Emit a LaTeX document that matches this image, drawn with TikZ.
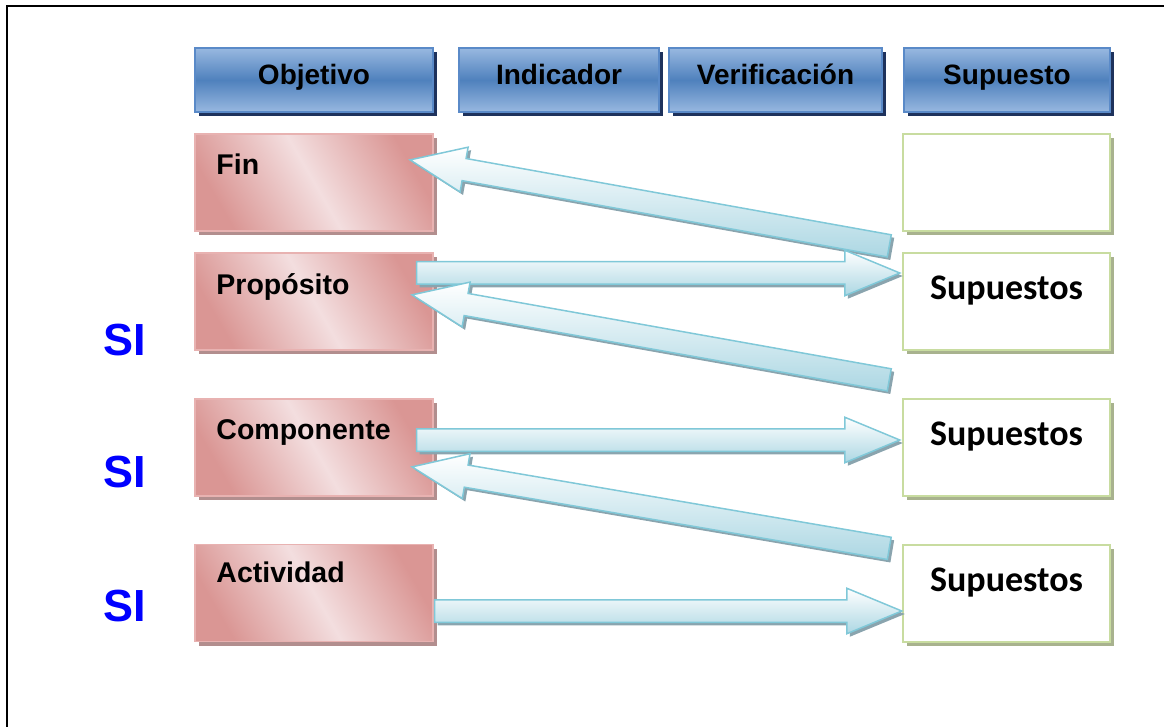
\documentclass[tikz,border=0pt]{standalone}
\usepackage{fontspec}
\setmainfont{Liberation Sans}
\newfontfamily\calibri{Carlito}
\usetikzlibrary{calc,shapes.arrows,shadows}

\definecolor{hdrtop}{RGB}{152,184,224}
\definecolor{hdrmid}{RGB}{79,129,189}
\definecolor{hdredge}{RGB}{90,138,200}
\definecolor{hdrshade}{RGB}{30,50,92}
\definecolor{objdark}{RGB}{218,150,148}
\definecolor{objlight}{RGB}{243,222,223}
\definecolor{objedge}{RGB}{232,178,177}
\definecolor{objshade}{RGB}{178,142,142}
\definecolor{supedge}{RGB}{200,220,160}
\definecolor{supshade}{RGB}{168,178,142}
\definecolor{arrfill}{RGB}{172,215,227}
\definecolor{arredge}{RGB}{128,200,216}
\definecolor{arrshade}{RGB}{138,164,174}

\tikzset{
  hdr/.style={draw=hdredge, line width=1.5pt, top color=hdrtop, bottom color=hdrtop, middle color=hdrmid,
    minimum height=64pt, inner sep=0pt, text height=20pt, text depth=10pt,
    drop shadow={shadow xshift=4pt, shadow yshift=-4pt, fill=hdrshade, opacity=1},
    font=\fontsize{28}{30}\selectfont\bfseries},
  objbox/.style={draw=objedge, line width=1.5pt, top color=objdark, bottom color=objdark, middle color=objlight,
    shading angle=-60, minimum width=238pt, minimum height=97pt, inner sep=0pt,
    drop shadow={shadow xshift=4pt, shadow yshift=-4pt, fill=objshade, opacity=1}},
  objlbl/.style={anchor=base west, inner sep=0pt, font=\fontsize{28.5}{30}\selectfont\bfseries},
  supbox/.style={draw=supedge, line width=2pt, fill=white, minimum width=207pt, minimum height=97pt,
    inner sep=0pt, text height=20pt, text depth=24pt, font=\fontsize{36}{40}\calibri\bfseries,
    drop shadow={shadow xshift=4pt, shadow yshift=-4pt, fill=supshade, opacity=1}},
  silbl/.style={text=blue, font=\fontsize{45}{48}\selectfont\bfseries, inner sep=0pt},
  fatarr/.style={single arrow, draw=arredge, line width=1.5pt, top color=white, bottom color=arrfill,
    inner sep=10.5pt, minimum width=44pt, single arrow tip angle=45, single arrow head extend=11.5pt,
    drop shadow={shadow xshift=3pt, shadow yshift=-3pt, fill=arrshade, opacity=1}}
}

% fat arrow from tail #2 to tip #3
\newcommand\fatarrow[3][]{%
  \path let \p1=(#2), \p2=(#3), \n1={atan2(\y2-\y1,\x2-\x1)}, \n2={veclen(\x2-\x1,\y2-\y1)}
    in node[fatarr, #1, minimum height=\n2, rotate=\n1, anchor=tail] at (\p1) {};}

\begin{document}
\begin{tikzpicture}[x=1pt, y=-1pt]
  \useasboundingbox (0,0) rectangle (1164,727);
  \draw[line width=2.5pt] (7,740) -- (7,6) -- (1180,6);

  % headers
  \node[hdr, minimum width=238pt] (hobj) at (314,80) {Objetivo};
  \node[hdr, minimum width=200pt] (hind) at (559,80) {Indicador};
  \node[hdr, minimum width=213pt] (hver) at (775.5,80) {Verificación};
  \node[hdr, minimum width=206pt] (hsup) at (1007,80) {Supuesto};

  % objectives
  \node[objbox] (fin)  at (314,182.5) {};
  \node[objbox] (prop) at (314,301.5) {};
  \node[objbox] (comp) at (314,447.5) {};
  \node[objbox] (act)  at (314,593) {};
  \node[objlbl] (finlbl)  at ([shift={(22,41)}]fin.north west) {Fin};
  \node[objlbl] (proplbl) at ([shift={(22,42)}]prop.north west) {Propósito};
  \node[objlbl] (complbl) at ([shift={(22,41)}]comp.north west) {Componente};
  \node[objlbl] (actlbl)  at ([shift={(22,39)}]act.north west) {Actividad};

  % assumptions
  \node[supbox] (sup1) at (1006.5,182.5) {};
  \node[supbox] (sup2) at (1006.5,301.5) {Supuestos};
  \node[supbox] (sup3) at (1006.5,447.5) {Supuestos};
  \node[supbox] (sup4) at (1006.5,593) {Supuestos};

  \node[silbl] (si1) at (125,340) {SI};
  \node[silbl] (si2) at (125,472) {SI};
  \node[silbl] (si3) at (125,606) {SI};

  % arrows
  \fatarrow{[shift={(-12,14)}]sup1.south west}{[shift={(-23,-22.5)}]fin.east}
  \fatarrow{[shift={(-18,-28.5)}]prop.east}{[shift={(-3,-28.5)}]sup2.west}
  \fatarrow{[shift={(-12,29)}]sup2.south west}{[shift={(-21,-6.5)}]prop.east}
  \fatarrow{[shift={(-18,-7.5)}]comp.east}{[shift={(-3,-7.5)}]sup3.west}
  \fatarrow{[shift={(-12,5)}]sup4.north west}{[shift={(-21,19.5)}]comp.east}
  \fatarrow{[shift={(0,18)}]act.east}{[shift={(-1,18)}]sup4.west}
\end{tikzpicture}
\end{document}
